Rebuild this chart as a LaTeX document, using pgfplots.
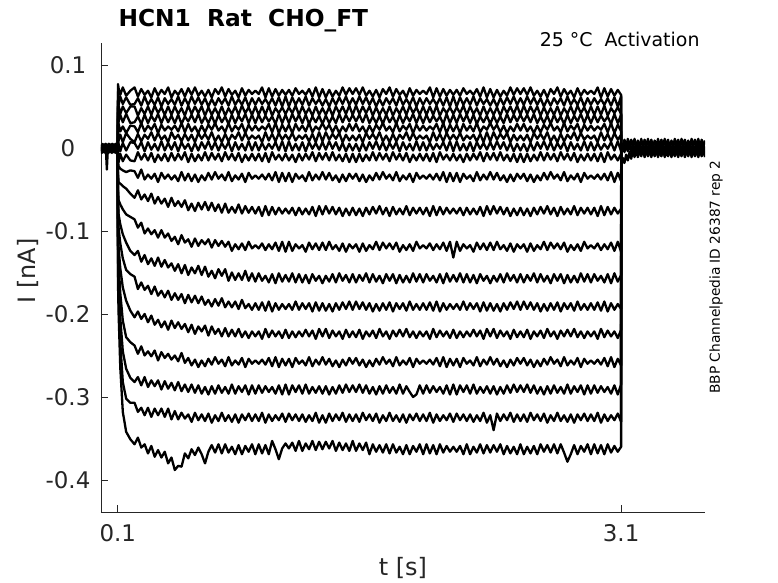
\documentclass[border=0pt]{standalone}
\usepackage{pgfplots}
\pgfplotsset{compat=1.18}
\usepackage{pgfplotstable}
\usepackage{fontspec}
\setmainfont{DejaVu Sans}
\definecolor{axgray}{rgb}{0.15,0.15,0.15}

\pgfplotstableread{
t a1 a2 a3 a4 a5 a6 a7 a8 a9 a10 a11 a12 a13 a14 a15 a16 a17 a18
0.1 0.000 0.000 0.000 0.000 0.000 0.000 0.000 0.000 0.000 0.000 0.000 0.000 0.000 0.000 0.000 0.000 0.000 0.000
0.101 0.077 0.068 0.058 0.048 0.038 0.028 0.018 0.008 -0.015 -0.030 -0.050 -0.065 -0.080 -0.100 -0.115 -0.130 -0.145 -0.160
0.105 0.072 0.052 0.051 0.032 0.029 0.009 0.005 -0.017 -0.022 -0.041 -0.063 -0.080 -0.097 -0.120 -0.140 -0.160 -0.180 -0.200
0.115 0.064 0.062 0.041 0.040 0.020 0.016 -0.004 -0.007 -0.025 -0.043 -0.068 -0.092 -0.115 -0.145 -0.175 -0.205 -0.235 -0.265
0.13 0.073 0.053 0.050 0.031 0.026 0.007 0.006 -0.016 -0.027 -0.046 -0.074 -0.104 -0.133 -0.168 -0.208 -0.245 -0.282 -0.318
0.15 0.063 0.061 0.042 0.041 0.018 0.018 -0.003 -0.008 -0.029 -0.049 -0.080 -0.114 -0.147 -0.184 -0.228 -0.266 -0.302 -0.342
0.175 0.069 0.052 0.050 0.030 0.027 0.011 0.007 -0.015 -0.027 -0.055 -0.083 -0.124 -0.152 -0.196 -0.234 -0.277 -0.307 -0.351
0.20 0.073 0.053 0.050 0.031 0.026 0.007 0.006 -0.016 -0.028 -0.060 -0.086 -0.129 -0.155 -0.204 -0.238 -0.282 -0.307 -0.357
0.22 0.062 0.060 0.039 0.038 0.019 0.017 -0.001 -0.005 -0.036 -0.051 -0.096 -0.124 -0.170 -0.197 -0.248 -0.276 -0.318 -0.349
0.24 0.071 0.051 0.048 0.029 0.030 0.008 0.007 -0.014 -0.026 -0.062 -0.090 -0.137 -0.162 -0.206 -0.239 -0.286 -0.313 -0.361
0.26 0.064 0.062 0.041 0.040 0.020 0.016 -0.004 -0.007 -0.038 -0.056 -0.103 -0.129 -0.171 -0.200 -0.250 -0.276 -0.322 -0.357
0.28 0.069 0.052 0.050 0.030 0.027 0.011 0.007 -0.015 -0.032 -0.064 -0.097 -0.140 -0.166 -0.210 -0.245 -0.288 -0.313 -0.368
0.30 0.061 0.059 0.040 0.039 0.022 0.019 -0.002 -0.006 -0.037 -0.055 -0.104 -0.133 -0.176 -0.202 -0.251 -0.280 -0.324 -0.359
0.32 0.072 0.052 0.051 0.032 0.029 0.009 0.005 -0.017 -0.031 -0.067 -0.099 -0.142 -0.167 -0.213 -0.244 -0.287 -0.314 -0.372
0.34 0.063 0.061 0.042 0.041 0.018 0.018 -0.003 -0.008 -0.041 -0.059 -0.108 -0.132 -0.178 -0.207 -0.256 -0.280 -0.322 -0.364
0.36 0.070 0.050 0.049 0.030 0.028 0.010 0.008 -0.015 -0.030 -0.067 -0.099 -0.143 -0.172 -0.216 -0.246 -0.291 -0.314 -0.373
0.38 0.065 0.060 0.040 0.040 0.021 0.015 -0.003 -0.007 -0.037 -0.061 -0.108 -0.135 -0.180 -0.209 -0.253 -0.281 -0.324 -0.366
0.40 0.073 0.053 0.050 0.031 0.026 0.007 0.006 -0.016 -0.032 -0.071 -0.103 -0.144 -0.172 -0.219 -0.248 -0.290 -0.314 -0.380
0.42 0.061 0.059 0.040 0.039 0.022 0.019 -0.002 -0.006 -0.038 -0.060 -0.112 -0.139 -0.183 -0.208 -0.255 -0.283 -0.327 -0.373
0.44 0.069 0.052 0.050 0.030 0.027 0.011 0.007 -0.015 -0.033 -0.070 -0.107 -0.148 -0.175 -0.217 -0.250 -0.292 -0.317 -0.388
0.46 0.064 0.062 0.041 0.040 0.020 0.016 -0.004 -0.007 -0.040 -0.064 -0.116 -0.140 -0.183 -0.210 -0.257 -0.282 -0.327 -0.383
0.48 0.071 0.051 0.048 0.029 0.030 0.008 0.007 -0.014 -0.029 -0.071 -0.105 -0.151 -0.176 -0.218 -0.247 -0.293 -0.319 -0.384
0.50 0.062 0.060 0.039 0.038 0.019 0.017 -0.001 -0.005 -0.039 -0.063 -0.114 -0.141 -0.187 -0.212 -0.259 -0.285 -0.326 -0.368
0.52 0.072 0.052 0.051 0.032 0.029 0.009 0.005 -0.017 -0.031 -0.075 -0.110 -0.153 -0.177 -0.222 -0.253 -0.294 -0.321 -0.374
0.54 0.064 0.062 0.041 0.040 0.020 0.016 -0.004 -0.007 -0.040 -0.067 -0.119 -0.144 -0.186 -0.213 -0.262 -0.285 -0.330 -0.363
0.56 0.073 0.053 0.050 0.031 0.026 0.007 0.006 -0.016 -0.032 -0.076 -0.109 -0.151 -0.178 -0.224 -0.255 -0.295 -0.319 -0.370
0.58 0.063 0.061 0.042 0.041 0.018 0.018 -0.003 -0.008 -0.041 -0.066 -0.118 -0.142 -0.187 -0.215 -0.264 -0.286 -0.328 -0.361
0.60 0.069 0.052 0.050 0.030 0.027 0.011 0.007 -0.015 -0.033 -0.074 -0.111 -0.153 -0.179 -0.221 -0.256 -0.296 -0.321 -0.369
0.62 0.062 0.060 0.039 0.038 0.019 0.017 -0.001 -0.005 -0.039 -0.065 -0.116 -0.143 -0.189 -0.214 -0.263 -0.288 -0.329 -0.380
0.64 0.070 0.050 0.049 0.030 0.028 0.010 0.008 -0.015 -0.030 -0.075 -0.110 -0.155 -0.183 -0.226 -0.254 -0.297 -0.320 -0.366
0.66 0.061 0.059 0.040 0.039 0.022 0.019 -0.002 -0.006 -0.038 -0.066 -0.120 -0.148 -0.191 -0.215 -0.261 -0.287 -0.331 -0.358
0.68 0.071 0.051 0.048 0.029 0.030 0.008 0.007 -0.014 -0.029 -0.076 -0.111 -0.157 -0.182 -0.224 -0.252 -0.296 -0.322 -0.367
0.70 0.065 0.060 0.040 0.040 0.021 0.015 -0.003 -0.007 -0.037 -0.068 -0.118 -0.146 -0.190 -0.218 -0.260 -0.286 -0.329 -0.357
0.72 0.073 0.053 0.050 0.031 0.026 0.007 0.006 -0.016 -0.032 -0.078 -0.112 -0.154 -0.181 -0.227 -0.255 -0.295 -0.319 -0.368
0.74 0.062 0.060 0.039 0.038 0.019 0.017 -0.001 -0.005 -0.039 -0.067 -0.119 -0.146 -0.192 -0.217 -0.263 -0.288 -0.329 -0.357
0.76 0.071 0.051 0.048 0.029 0.030 0.008 0.007 -0.014 -0.029 -0.078 -0.113 -0.160 -0.185 -0.227 -0.252 -0.296 -0.322 -0.367
0.78 0.064 0.062 0.041 0.040 0.020 0.016 -0.004 -0.007 -0.040 -0.071 -0.124 -0.150 -0.192 -0.219 -0.262 -0.285 -0.330 -0.360
0.80 0.069 0.052 0.050 0.030 0.027 0.011 0.007 -0.015 -0.033 -0.078 -0.116 -0.159 -0.185 -0.227 -0.256 -0.296 -0.321 -0.369
0.82 0.061 0.059 0.040 0.039 0.022 0.019 -0.002 -0.006 -0.038 -0.068 -0.122 -0.151 -0.194 -0.218 -0.261 -0.287 -0.331 -0.358
0.84 0.072 0.052 0.051 0.032 0.029 0.009 0.005 -0.017 -0.031 -0.079 -0.115 -0.159 -0.183 -0.228 -0.253 -0.294 -0.321 -0.369
0.86 0.063 0.061 0.042 0.041 0.018 0.018 -0.003 -0.008 -0.041 -0.070 -0.123 -0.148 -0.193 -0.221 -0.264 -0.286 -0.328 -0.359
0.88 0.070 0.050 0.049 0.030 0.028 0.010 0.008 -0.015 -0.030 -0.078 -0.113 -0.160 -0.188 -0.229 -0.254 -0.297 -0.320 -0.366
0.90 0.065 0.060 0.040 0.040 0.021 0.015 -0.003 -0.007 -0.037 -0.071 -0.121 -0.151 -0.195 -0.221 -0.260 -0.286 -0.329 -0.357
0.92 0.069 0.052 0.050 0.030 0.027 0.011 0.007 -0.015 -0.033 -0.079 -0.117 -0.161 -0.187 -0.227 -0.256 -0.296 -0.321 -0.369
0.94 0.065 0.060 0.040 0.040 0.021 0.015 -0.003 -0.007 -0.037 -0.071 -0.121 -0.151 -0.195 -0.221 -0.260 -0.286 -0.329 -0.357
0.96 0.073 0.053 0.050 0.031 0.026 0.007 0.006 -0.016 -0.032 -0.082 -0.115 -0.160 -0.186 -0.230 -0.255 -0.295 -0.319 -0.368
0.98 0.061 0.059 0.040 0.039 0.022 0.019 -0.002 -0.006 -0.038 -0.070 -0.123 -0.154 -0.196 -0.218 -0.261 -0.287 -0.331 -0.358
1.00 0.072 0.052 0.051 0.032 0.029 0.009 0.005 -0.017 -0.031 -0.081 -0.116 -0.162 -0.185 -0.228 -0.253 -0.294 -0.321 -0.369
1.02 0.062 0.060 0.039 0.038 0.019 0.017 -0.001 -0.005 -0.039 -0.071 -0.122 -0.152 -0.197 -0.220 -0.263 -0.288 -0.329 -0.353
1.04 0.071 0.051 0.048 0.029 0.030 0.008 0.007 -0.014 -0.029 -0.080 -0.114 -0.163 -0.187 -0.227 -0.252 -0.296 -0.322 -0.363
1.06 0.063 0.061 0.042 0.041 0.018 0.018 -0.003 -0.008 -0.041 -0.072 -0.124 -0.151 -0.195 -0.221 -0.264 -0.286 -0.328 -0.375
1.08 0.070 0.050 0.049 0.030 0.028 0.010 0.008 -0.015 -0.030 -0.079 -0.113 -0.161 -0.188 -0.229 -0.254 -0.297 -0.320 -0.362
1.10 0.064 0.062 0.041 0.040 0.020 0.016 -0.004 -0.007 -0.040 -0.073 -0.125 -0.153 -0.194 -0.219 -0.262 -0.285 -0.330 -0.356
1.12 0.070 0.050 0.049 0.030 0.028 0.010 0.008 -0.015 -0.030 -0.079 -0.113 -0.161 -0.188 -0.229 -0.254 -0.297 -0.320 -0.362
1.14 0.063 0.061 0.042 0.041 0.018 0.018 -0.003 -0.008 -0.041 -0.072 -0.124 -0.151 -0.195 -0.221 -0.264 -0.286 -0.328 -0.355
1.16 0.072 0.052 0.051 0.032 0.029 0.009 0.005 -0.017 -0.031 -0.081 -0.116 -0.162 -0.185 -0.228 -0.253 -0.294 -0.321 -0.365
1.18 0.065 0.060 0.040 0.040 0.021 0.015 -0.003 -0.007 -0.037 -0.072 -0.121 -0.152 -0.195 -0.221 -0.260 -0.286 -0.329 -0.353
1.20 0.069 0.052 0.050 0.030 0.027 0.011 0.007 -0.015 -0.033 -0.080 -0.117 -0.162 -0.187 -0.227 -0.256 -0.296 -0.321 -0.365
1.22 0.064 0.062 0.041 0.040 0.020 0.016 -0.004 -0.007 -0.040 -0.073 -0.125 -0.153 -0.194 -0.219 -0.262 -0.285 -0.330 -0.356
1.24 0.071 0.051 0.048 0.029 0.030 0.008 0.007 -0.014 -0.029 -0.080 -0.114 -0.163 -0.187 -0.227 -0.252 -0.296 -0.322 -0.363
1.26 0.062 0.060 0.039 0.038 0.019 0.017 -0.001 -0.005 -0.039 -0.071 -0.122 -0.152 -0.197 -0.220 -0.263 -0.288 -0.329 -0.353
1.28 0.073 0.053 0.050 0.031 0.026 0.007 0.006 -0.016 -0.032 -0.082 -0.115 -0.160 -0.186 -0.230 -0.255 -0.295 -0.319 -0.364
1.30 0.061 0.059 0.040 0.039 0.022 0.019 -0.002 -0.006 -0.038 -0.070 -0.123 -0.154 -0.196 -0.218 -0.261 -0.287 -0.331 -0.354
1.32 0.071 0.051 0.048 0.029 0.030 0.008 0.007 -0.014 -0.029 -0.080 -0.114 -0.163 -0.187 -0.227 -0.252 -0.296 -0.322 -0.363
1.34 0.061 0.059 0.040 0.039 0.022 0.019 -0.002 -0.006 -0.038 -0.070 -0.123 -0.154 -0.196 -0.218 -0.261 -0.287 -0.331 -0.354
1.36 0.070 0.050 0.049 0.030 0.028 0.010 0.008 -0.015 -0.030 -0.079 -0.113 -0.161 -0.188 -0.229 -0.254 -0.297 -0.320 -0.362
1.38 0.062 0.060 0.039 0.038 0.019 0.017 -0.001 -0.005 -0.039 -0.071 -0.122 -0.152 -0.197 -0.220 -0.263 -0.288 -0.329 -0.353
1.40 0.069 0.052 0.050 0.030 0.027 0.011 0.007 -0.015 -0.033 -0.080 -0.117 -0.162 -0.187 -0.227 -0.256 -0.296 -0.321 -0.365
1.42 0.063 0.061 0.042 0.041 0.018 0.018 -0.003 -0.008 -0.041 -0.072 -0.124 -0.151 -0.195 -0.221 -0.264 -0.286 -0.328 -0.355
1.44 0.073 0.053 0.050 0.031 0.026 0.007 0.006 -0.016 -0.032 -0.082 -0.115 -0.160 -0.186 -0.230 -0.255 -0.295 -0.319 -0.364
1.46 0.064 0.062 0.041 0.040 0.020 0.016 -0.004 -0.007 -0.040 -0.073 -0.125 -0.153 -0.194 -0.219 -0.262 -0.285 -0.330 -0.356
1.48 0.072 0.052 0.051 0.032 0.029 0.009 0.005 -0.017 -0.031 -0.081 -0.116 -0.162 -0.185 -0.228 -0.253 -0.294 -0.321 -0.365
1.50 0.065 0.060 0.040 0.040 0.021 0.015 -0.003 -0.007 -0.037 -0.072 -0.121 -0.152 -0.195 -0.221 -0.260 -0.286 -0.329 -0.353
1.52 0.072 0.052 0.051 0.032 0.029 0.009 0.005 -0.017 -0.031 -0.081 -0.116 -0.162 -0.185 -0.228 -0.253 -0.294 -0.321 -0.365
1.54 0.064 0.062 0.041 0.040 0.020 0.016 -0.004 -0.007 -0.040 -0.073 -0.125 -0.153 -0.194 -0.219 -0.262 -0.285 -0.330 -0.356
1.56 0.073 0.053 0.050 0.031 0.026 0.007 0.006 -0.016 -0.032 -0.082 -0.115 -0.160 -0.186 -0.230 -0.255 -0.295 -0.319 -0.364
1.58 0.063 0.061 0.042 0.041 0.018 0.018 -0.003 -0.008 -0.041 -0.072 -0.124 -0.151 -0.195 -0.221 -0.264 -0.286 -0.328 -0.355
1.60 0.069 0.052 0.050 0.030 0.027 0.011 0.007 -0.015 -0.033 -0.080 -0.117 -0.162 -0.187 -0.227 -0.256 -0.296 -0.321 -0.369
1.62 0.062 0.060 0.039 0.038 0.019 0.017 -0.001 -0.005 -0.039 -0.071 -0.122 -0.152 -0.197 -0.220 -0.263 -0.288 -0.329 -0.357
1.64 0.070 0.050 0.049 0.030 0.028 0.010 0.008 -0.015 -0.030 -0.079 -0.113 -0.161 -0.188 -0.229 -0.254 -0.297 -0.320 -0.366
1.66 0.061 0.059 0.040 0.039 0.022 0.019 -0.002 -0.006 -0.038 -0.070 -0.123 -0.154 -0.196 -0.218 -0.261 -0.287 -0.331 -0.358
1.68 0.071 0.051 0.048 0.029 0.030 0.008 0.007 -0.014 -0.029 -0.080 -0.114 -0.163 -0.187 -0.227 -0.252 -0.296 -0.322 -0.367
1.70 0.065 0.060 0.040 0.040 0.021 0.015 -0.003 -0.007 -0.037 -0.072 -0.121 -0.152 -0.195 -0.221 -0.260 -0.286 -0.329 -0.357
1.72 0.073 0.053 0.050 0.031 0.026 0.007 0.006 -0.016 -0.032 -0.082 -0.115 -0.160 -0.186 -0.230 -0.255 -0.295 -0.319 -0.368
1.74 0.062 0.060 0.039 0.038 0.019 0.017 -0.001 -0.005 -0.039 -0.071 -0.122 -0.152 -0.197 -0.220 -0.263 -0.288 -0.329 -0.357
1.76 0.071 0.051 0.048 0.029 0.030 0.008 0.007 -0.014 -0.029 -0.080 -0.114 -0.163 -0.187 -0.227 -0.252 -0.296 -0.322 -0.367
1.78 0.064 0.062 0.041 0.040 0.020 0.016 -0.004 -0.007 -0.040 -0.073 -0.125 -0.153 -0.194 -0.219 -0.262 -0.285 -0.330 -0.360
1.80 0.069 0.052 0.050 0.030 0.027 0.011 0.007 -0.015 -0.033 -0.080 -0.117 -0.162 -0.187 -0.227 -0.256 -0.296 -0.321 -0.369
1.82 0.061 0.059 0.040 0.039 0.022 0.019 -0.002 -0.006 -0.038 -0.070 -0.123 -0.154 -0.196 -0.218 -0.261 -0.287 -0.331 -0.358
1.84 0.072 0.052 0.051 0.032 0.029 0.009 0.005 -0.017 -0.031 -0.081 -0.116 -0.162 -0.185 -0.228 -0.253 -0.294 -0.321 -0.369
1.86 0.063 0.061 0.042 0.041 0.018 0.018 -0.003 -0.008 -0.041 -0.072 -0.124 -0.151 -0.195 -0.221 -0.264 -0.300 -0.328 -0.359
1.88 0.070 0.050 0.049 0.030 0.028 0.010 0.008 -0.015 -0.030 -0.079 -0.113 -0.161 -0.188 -0.229 -0.254 -0.297 -0.320 -0.366
1.90 0.065 0.060 0.040 0.040 0.021 0.015 -0.003 -0.007 -0.037 -0.072 -0.121 -0.152 -0.195 -0.221 -0.260 -0.286 -0.329 -0.357
1.92 0.069 0.052 0.050 0.030 0.027 0.011 0.007 -0.015 -0.033 -0.080 -0.117 -0.162 -0.187 -0.227 -0.256 -0.296 -0.321 -0.369
1.94 0.065 0.060 0.040 0.040 0.021 0.015 -0.003 -0.007 -0.037 -0.072 -0.121 -0.152 -0.195 -0.221 -0.260 -0.286 -0.329 -0.357
1.96 0.073 0.053 0.050 0.031 0.026 0.007 0.006 -0.016 -0.032 -0.082 -0.115 -0.160 -0.186 -0.230 -0.255 -0.295 -0.319 -0.368
1.98 0.061 0.059 0.040 0.039 0.022 0.019 -0.002 -0.006 -0.038 -0.070 -0.123 -0.154 -0.196 -0.218 -0.261 -0.287 -0.331 -0.358
2.00 0.072 0.052 0.051 0.032 0.029 0.009 0.005 -0.017 -0.031 -0.081 -0.116 -0.162 -0.185 -0.228 -0.253 -0.294 -0.321 -0.369
2.02 0.062 0.060 0.039 0.038 0.019 0.017 -0.001 -0.005 -0.039 -0.071 -0.122 -0.152 -0.197 -0.220 -0.263 -0.288 -0.329 -0.357
2.04 0.071 0.051 0.048 0.029 0.030 0.008 0.007 -0.014 -0.029 -0.080 -0.114 -0.163 -0.187 -0.227 -0.252 -0.296 -0.322 -0.367
2.06 0.063 0.061 0.042 0.041 0.018 0.018 -0.003 -0.008 -0.041 -0.072 -0.124 -0.151 -0.195 -0.221 -0.264 -0.286 -0.328 -0.359
2.08 0.070 0.050 0.049 0.030 0.028 0.010 0.008 -0.015 -0.030 -0.079 -0.113 -0.161 -0.188 -0.229 -0.254 -0.297 -0.320 -0.366
2.10 0.064 0.062 0.041 0.040 0.020 0.016 -0.004 -0.007 -0.040 -0.073 -0.132 -0.153 -0.194 -0.219 -0.262 -0.285 -0.330 -0.360
2.12 0.070 0.050 0.049 0.030 0.028 0.010 0.008 -0.015 -0.030 -0.079 -0.113 -0.161 -0.188 -0.229 -0.254 -0.297 -0.320 -0.366
2.14 0.063 0.061 0.042 0.041 0.018 0.018 -0.003 -0.008 -0.041 -0.072 -0.124 -0.151 -0.195 -0.221 -0.264 -0.286 -0.328 -0.359
2.16 0.072 0.052 0.051 0.032 0.029 0.009 0.005 -0.017 -0.031 -0.081 -0.116 -0.162 -0.185 -0.228 -0.253 -0.294 -0.321 -0.369
2.18 0.065 0.060 0.040 0.040 0.021 0.015 -0.003 -0.007 -0.037 -0.072 -0.121 -0.152 -0.195 -0.221 -0.260 -0.286 -0.329 -0.357
2.20 0.069 0.052 0.050 0.030 0.027 0.011 0.007 -0.015 -0.033 -0.080 -0.117 -0.162 -0.187 -0.227 -0.256 -0.296 -0.321 -0.369
2.22 0.064 0.062 0.041 0.040 0.020 0.016 -0.004 -0.007 -0.040 -0.073 -0.125 -0.153 -0.194 -0.219 -0.262 -0.285 -0.330 -0.360
2.24 0.071 0.051 0.048 0.029 0.030 0.008 0.007 -0.014 -0.029 -0.080 -0.114 -0.163 -0.187 -0.227 -0.252 -0.296 -0.322 -0.367
2.26 0.062 0.060 0.039 0.038 0.019 0.017 -0.001 -0.005 -0.039 -0.071 -0.122 -0.152 -0.197 -0.220 -0.263 -0.288 -0.329 -0.357
2.28 0.073 0.053 0.050 0.031 0.026 0.007 0.006 -0.016 -0.032 -0.082 -0.115 -0.160 -0.186 -0.230 -0.255 -0.295 -0.319 -0.368
2.30 0.061 0.059 0.040 0.039 0.022 0.019 -0.002 -0.006 -0.038 -0.070 -0.123 -0.154 -0.196 -0.218 -0.261 -0.287 -0.331 -0.358
2.32 0.071 0.051 0.048 0.029 0.030 0.008 0.007 -0.014 -0.029 -0.080 -0.114 -0.163 -0.187 -0.227 -0.252 -0.296 -0.322 -0.367
2.34 0.061 0.059 0.040 0.039 0.022 0.019 -0.002 -0.006 -0.038 -0.070 -0.123 -0.154 -0.196 -0.218 -0.261 -0.287 -0.340 -0.358
2.36 0.070 0.050 0.049 0.030 0.028 0.010 0.008 -0.015 -0.030 -0.079 -0.113 -0.161 -0.188 -0.229 -0.254 -0.297 -0.320 -0.366
2.38 0.062 0.060 0.039 0.038 0.019 0.017 -0.001 -0.005 -0.039 -0.071 -0.122 -0.152 -0.197 -0.220 -0.263 -0.288 -0.329 -0.357
2.40 0.069 0.052 0.050 0.030 0.027 0.011 0.007 -0.015 -0.033 -0.080 -0.117 -0.162 -0.187 -0.227 -0.256 -0.296 -0.321 -0.369
2.42 0.063 0.061 0.042 0.041 0.018 0.018 -0.003 -0.008 -0.041 -0.072 -0.124 -0.151 -0.195 -0.221 -0.264 -0.286 -0.328 -0.359
2.44 0.073 0.053 0.050 0.031 0.026 0.007 0.006 -0.016 -0.032 -0.082 -0.115 -0.160 -0.186 -0.230 -0.255 -0.295 -0.319 -0.368
2.46 0.064 0.062 0.041 0.040 0.020 0.016 -0.004 -0.007 -0.040 -0.073 -0.125 -0.153 -0.194 -0.219 -0.262 -0.285 -0.330 -0.360
2.48 0.072 0.052 0.051 0.032 0.029 0.009 0.005 -0.017 -0.031 -0.081 -0.116 -0.162 -0.185 -0.228 -0.253 -0.294 -0.321 -0.369
2.50 0.065 0.060 0.040 0.040 0.021 0.015 -0.003 -0.007 -0.037 -0.072 -0.121 -0.152 -0.195 -0.221 -0.260 -0.286 -0.329 -0.357
2.52 0.072 0.052 0.051 0.032 0.029 0.009 0.005 -0.017 -0.031 -0.081 -0.116 -0.162 -0.185 -0.228 -0.253 -0.294 -0.321 -0.369
2.54 0.064 0.062 0.041 0.040 0.020 0.016 -0.004 -0.007 -0.040 -0.073 -0.125 -0.153 -0.194 -0.219 -0.262 -0.285 -0.330 -0.360
2.56 0.073 0.053 0.050 0.031 0.026 0.007 0.006 -0.016 -0.032 -0.082 -0.115 -0.160 -0.186 -0.230 -0.255 -0.295 -0.319 -0.368
2.58 0.063 0.061 0.042 0.041 0.018 0.018 -0.003 -0.008 -0.041 -0.072 -0.124 -0.151 -0.195 -0.221 -0.264 -0.286 -0.328 -0.359
2.60 0.069 0.052 0.050 0.030 0.027 0.011 0.007 -0.015 -0.033 -0.080 -0.117 -0.162 -0.187 -0.227 -0.256 -0.296 -0.321 -0.369
2.62 0.062 0.060 0.039 0.038 0.019 0.017 -0.001 -0.005 -0.039 -0.071 -0.122 -0.152 -0.197 -0.220 -0.263 -0.288 -0.329 -0.357
2.64 0.070 0.050 0.049 0.030 0.028 0.010 0.008 -0.015 -0.030 -0.079 -0.113 -0.161 -0.188 -0.229 -0.254 -0.297 -0.320 -0.366
2.66 0.061 0.059 0.040 0.039 0.022 0.019 -0.002 -0.006 -0.038 -0.070 -0.123 -0.154 -0.196 -0.218 -0.261 -0.287 -0.331 -0.358
2.68 0.071 0.051 0.048 0.029 0.030 0.008 0.007 -0.014 -0.029 -0.080 -0.114 -0.163 -0.187 -0.227 -0.252 -0.296 -0.322 -0.367
2.70 0.065 0.060 0.040 0.040 0.021 0.015 -0.003 -0.007 -0.037 -0.072 -0.121 -0.152 -0.195 -0.221 -0.260 -0.286 -0.329 -0.357
2.72 0.073 0.053 0.050 0.031 0.026 0.007 0.006 -0.016 -0.032 -0.082 -0.115 -0.160 -0.186 -0.230 -0.255 -0.295 -0.319 -0.368
2.74 0.062 0.060 0.039 0.038 0.019 0.017 -0.001 -0.005 -0.039 -0.071 -0.122 -0.152 -0.197 -0.220 -0.263 -0.288 -0.329 -0.357
2.76 0.071 0.051 0.048 0.029 0.030 0.008 0.007 -0.014 -0.029 -0.080 -0.114 -0.163 -0.187 -0.227 -0.252 -0.296 -0.322 -0.367
2.78 0.064 0.062 0.041 0.040 0.020 0.016 -0.004 -0.007 -0.040 -0.073 -0.125 -0.153 -0.194 -0.219 -0.262 -0.285 -0.330 -0.378
2.80 0.069 0.052 0.050 0.030 0.027 0.011 0.007 -0.015 -0.033 -0.080 -0.117 -0.162 -0.187 -0.227 -0.256 -0.296 -0.321 -0.369
2.82 0.061 0.059 0.040 0.039 0.022 0.019 -0.002 -0.006 -0.038 -0.070 -0.123 -0.154 -0.196 -0.218 -0.261 -0.287 -0.331 -0.358
2.84 0.072 0.052 0.051 0.032 0.029 0.009 0.005 -0.017 -0.031 -0.081 -0.116 -0.162 -0.185 -0.228 -0.253 -0.294 -0.321 -0.369
2.86 0.063 0.061 0.042 0.041 0.018 0.018 -0.003 -0.008 -0.041 -0.072 -0.124 -0.151 -0.195 -0.221 -0.264 -0.286 -0.328 -0.359
2.88 0.070 0.050 0.049 0.030 0.028 0.010 0.008 -0.015 -0.030 -0.079 -0.113 -0.161 -0.188 -0.229 -0.254 -0.297 -0.320 -0.366
2.90 0.065 0.060 0.040 0.040 0.021 0.015 -0.003 -0.007 -0.037 -0.072 -0.121 -0.152 -0.195 -0.221 -0.260 -0.286 -0.329 -0.357
2.92 0.069 0.052 0.050 0.030 0.027 0.011 0.007 -0.015 -0.033 -0.080 -0.117 -0.162 -0.187 -0.227 -0.256 -0.296 -0.321 -0.369
2.94 0.065 0.060 0.040 0.040 0.021 0.015 -0.003 -0.007 -0.037 -0.072 -0.121 -0.152 -0.195 -0.221 -0.260 -0.286 -0.329 -0.357
2.96 0.073 0.053 0.050 0.031 0.026 0.007 0.006 -0.016 -0.032 -0.082 -0.115 -0.160 -0.186 -0.230 -0.255 -0.295 -0.319 -0.368
2.98 0.061 0.059 0.040 0.039 0.022 0.019 -0.002 -0.006 -0.038 -0.070 -0.123 -0.154 -0.196 -0.218 -0.261 -0.287 -0.331 -0.358
3.00 0.072 0.052 0.051 0.032 0.029 0.009 0.005 -0.017 -0.031 -0.081 -0.116 -0.162 -0.185 -0.228 -0.253 -0.294 -0.321 -0.369
3.02 0.062 0.060 0.039 0.038 0.019 0.017 -0.001 -0.005 -0.039 -0.071 -0.122 -0.152 -0.197 -0.220 -0.263 -0.288 -0.329 -0.357
3.04 0.071 0.051 0.048 0.029 0.030 0.008 0.007 -0.014 -0.029 -0.080 -0.114 -0.163 -0.187 -0.227 -0.252 -0.296 -0.322 -0.367
3.06 0.063 0.061 0.042 0.041 0.018 0.018 -0.003 -0.008 -0.041 -0.072 -0.124 -0.151 -0.195 -0.221 -0.264 -0.286 -0.328 -0.359
3.08 0.070 0.050 0.049 0.030 0.028 0.010 0.008 -0.015 -0.030 -0.079 -0.113 -0.161 -0.188 -0.229 -0.254 -0.297 -0.320 -0.366
3.10 0.064 0.062 0.041 0.040 0.020 0.016 -0.004 -0.007 -0.040 -0.073 -0.125 -0.153 -0.194 -0.219 -0.262 -0.285 -0.330 -0.360
3.1005 -0.006 -0.006 -0.006 -0.006 -0.006 -0.006 -0.006 -0.006 -0.006 -0.006 -0.006 -0.006 -0.006 -0.006 -0.006 -0.006 -0.006 -0.006
}\traces

\pgfplotstableread{
t p1 p2 p3
0 0.004 -0.004 0.001
0.005 -0.003 0.004 -0.006
0.01 0.005 -0.005 0.002
0.015 -0.002 0.004 -0.005
0.02 0.004 -0.004 0.001
0.025 -0.003 0.005 -0.006
0.03 0.005 -0.005 0.002
0.035 -0.002 -0.026 -0.008
0.04 0.004 -0.004 0.001
0.045 -0.003 0.005 -0.006
0.05 0.005 -0.005 0.002
0.055 -0.002 0.004 -0.005
0.06 0.004 -0.004 0.001
0.065 -0.003 0.005 -0.006
0.07 0.005 -0.005 0.002
0.075 -0.002 0.004 -0.005
0.08 0.004 -0.004 0.001
0.085 -0.003 0.005 -0.006
0.09 0.005 -0.005 0.002
0.095 -0.002 0.004 -0.005
0.1 0.002 -0.002 0.000
}\pre

\pgfplotstableread{
t q1 q2 q3
3.10 0.004 -0.006 -0.024
3.11 0.001 0.005 -0.012
3.12 0.010 -0.005 -0.018
3.13 0.001 0.004 -0.008
3.14 0.011 -0.004 -0.015
3.15 0.000 0.005 -0.005
3.16 0.010 -0.005 -0.013
3.17 0.002 0.004 -0.003
3.18 0.011 -0.004 -0.011
3.19 0.001 0.005 -0.002
3.20 0.009 -0.005 -0.011
3.21 0.000 0.004 -0.003
3.22 0.011 -0.004 -0.010
3.23 0.002 0.005 -0.002
3.24 0.010 -0.005 -0.011
3.25 0.001 0.004 -0.003
3.26 0.011 -0.004 -0.010
3.27 0.000 0.005 -0.002
3.28 0.010 -0.005 -0.011
3.29 0.002 0.004 -0.003
3.30 0.009 -0.004 -0.010
3.31 0.001 0.005 -0.002
3.32 0.011 -0.005 -0.011
3.33 0.000 0.004 -0.003
3.34 0.010 -0.004 -0.010
3.35 0.002 0.005 -0.002
3.36 0.011 -0.005 -0.011
3.37 0.001 0.004 -0.003
3.38 0.010 -0.004 -0.010
3.39 0.000 0.005 -0.002
3.40 0.009 -0.005 -0.011
3.41 0.002 0.004 -0.003
3.42 0.011 -0.004 -0.010
3.43 0.001 0.005 -0.002
3.44 0.010 -0.005 -0.011
3.45 0.000 0.004 -0.003
3.46 0.011 -0.004 -0.010
3.47 0.002 0.005 -0.002
3.48 0.010 -0.005 -0.011
3.49 0.001 0.004 -0.003
3.50 0.009 -0.004 -0.010
3.51 0.000 0.005 -0.002
3.52 0.011 -0.005 -0.011
3.53 0.002 0.004 -0.003
3.54 0.010 -0.004 -0.010
3.55 0.001 0.005 -0.002
3.56 0.011 -0.005 -0.011
3.57 0.000 0.004 -0.003
3.58 0.010 -0.004 -0.010
3.59 0.002 0.005 -0.002
3.60 0.009 -0.005 -0.011
}\post

\pgfplotsset{trace/.style={black, line width=2.3bp, line join=round}}

\begin{document}
\begin{tikzpicture}
\path[use as bounding box] (-101bp,-71bp) rectangle (677bp,512bp);
\begin{axis}[
  at={(0,0)}, anchor=south west,
  width=604bp, height=469bp, scale only axis,
  xmin=0, xmax=3.6, ymin=-0.4386, ymax=0.1265,
  axis x line*=bottom, axis y line*=left,
  axis line style={-, axgray, line width=0.7bp},
  every tick/.style={axgray, line width=0.7bp},
  tick align=inside,
  major tick length=7bp,
  xtick={0.1,3.1}, xticklabels={0.1,3.1},
  ytick={-0.4,-0.3,-0.2,-0.1,0,0.1},
  yticklabels={-0.4,-0.3,-0.2,-0.1,0,0.1},
  tick label style={font=\fontsize{23}{27}\selectfont, text=axgray},
  xticklabel style={anchor=center, yshift=-21bp},
  yticklabel style={anchor=center, xshift=-33bp},
  xlabel={t [s]}, ylabel={I [nA]},
  label style={font=\fontsize{24}{28}\selectfont, text=axgray},
  xlabel style={at={(axis description cs:0.5,-0.1194)}, anchor=center},
  ylabel style={at={(axis description cs:-0.1209,0.514)}, anchor=center, rotate=0},
]
\addplot[trace] table[x=t,y=p1]{\pre};
\addplot[trace] table[x=t,y=p2]{\pre};
\addplot[trace] table[x=t,y=p3]{\pre};
\addplot[trace] table[x=t,y=a1]{\traces};
\addplot[trace] table[x=t,y=a2]{\traces};
\addplot[trace] table[x=t,y=a3]{\traces};
\addplot[trace] table[x=t,y=a4]{\traces};
\addplot[trace] table[x=t,y=a5]{\traces};
\addplot[trace] table[x=t,y=a6]{\traces};
\addplot[trace] table[x=t,y=a7]{\traces};
\addplot[trace] table[x=t,y=a8]{\traces};
\addplot[trace] table[x=t,y=a9]{\traces};
\addplot[trace] table[x=t,y=a10]{\traces};
\addplot[trace] table[x=t,y=a11]{\traces};
\addplot[trace] table[x=t,y=a12]{\traces};
\addplot[trace] table[x=t,y=a13]{\traces};
\addplot[trace] table[x=t,y=a14]{\traces};
\addplot[trace] table[x=t,y=a15]{\traces};
\addplot[trace] table[x=t,y=a16]{\traces};
\addplot[trace] table[x=t,y=a17]{\traces};
\addplot[trace] table[x=t,y=a18]{\traces};
\addplot[trace] table[x=t,y=q1]{\post};
\addplot[trace] table[x=t,y=q2]{\post};
\addplot[trace] table[x=t,y=q3]{\post};
\end{axis}
\node[anchor=base west, font=\bfseries\fontsize{23.4}{28}\selectfont] at (14bp,485bp) {HCN1\ \ Rat\ \ CHO\_FT};
\node[anchor=base east, font=\fontsize{19}{22}\selectfont] at (602bp,465bp) {25 °C\ \ Activation};
\node[rotate=90, anchor=center, font=\fontsize{13.8}{16}\selectfont] at (615bp,235bp) {BBP Channelpedia ID 26387 rep 2};
\end{tikzpicture}
\end{document}
